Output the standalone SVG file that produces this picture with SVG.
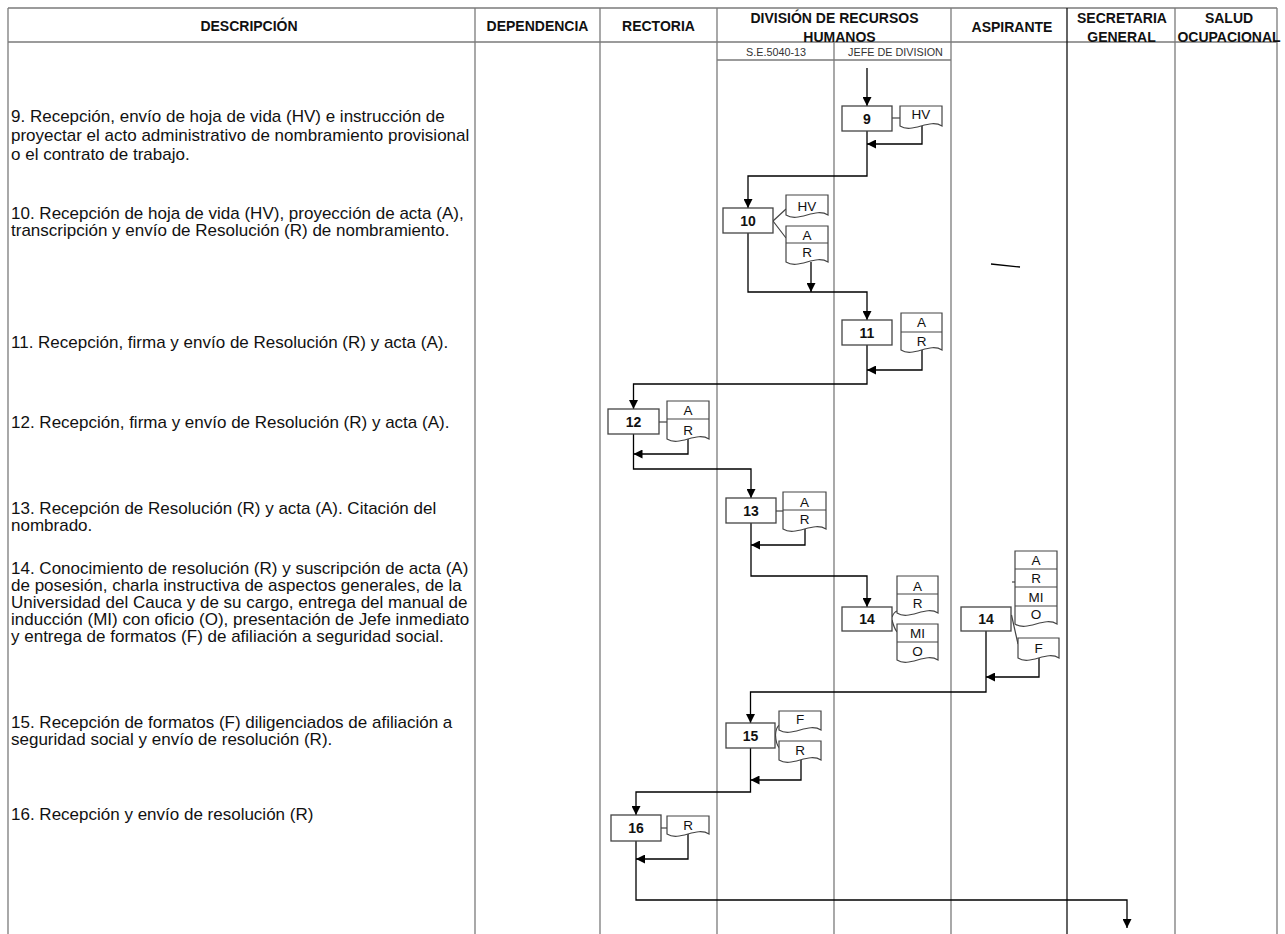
<svg xmlns="http://www.w3.org/2000/svg" width="1285" height="934" viewBox="0 0 1285 934">
<style>
.col{stroke:#7a7a7a;stroke-width:1.3;fill:none}
.colk{stroke:#111;stroke-width:1.3;fill:none}
.flow{stroke:#000;stroke-width:1.3;fill:none}
.box{fill:#fff;stroke:#444;stroke-width:1.3}
.doc{fill:#fff;stroke:#444;stroke-width:1.2}
.dv{stroke:#444;stroke-width:1.2}
.h{font-family:"Liberation Sans",Arial,sans-serif;font-weight:bold;font-size:14px;text-anchor:middle;fill:#111}
.sub{font-family:"Liberation Sans",Arial,sans-serif;font-size:10.8px;text-anchor:middle;fill:#333}
.d{font-family:"Liberation Sans",Arial,sans-serif;font-size:17px;fill:#111}
.bl{font-family:"Liberation Sans",Arial,sans-serif;font-weight:bold;font-size:14px;text-anchor:middle;fill:#111}
.dl{font-family:"Liberation Sans",Arial,sans-serif;font-size:13.5px;text-anchor:middle;fill:#111}
</style>
<defs>
<marker id="ah" markerWidth="9" markerHeight="9" refX="9" refY="4.5" orient="auto" markerUnits="userSpaceOnUse">
<path d="M0,0 L9,4.5 L0,9 z" fill="#000"/>
</marker>
</defs>
<rect width="1285" height="934" fill="#fff"/>
<g id="table">
<line class="col" x1="8" y1="8" x2="1277" y2="8"/>
<line class="col" x1="8" y1="42" x2="1277" y2="42"/>
<line class="col" x1="717" y1="60" x2="951" y2="60"/>
<line class="col" x1="8" y1="8" x2="8" y2="934"/>
<line class="col" x1="475" y1="8" x2="475" y2="934"/>
<line class="col" x1="600" y1="8" x2="600" y2="934"/>
<line class="col" x1="717" y1="8" x2="717" y2="934"/>
<line class="col" x1="834" y1="42" x2="834" y2="934"/>
<line class="col" x1="951" y1="8" x2="951" y2="934"/>
<line class="colk" x1="1067" y1="8" x2="1067" y2="934"/>
<line class="col" x1="1175" y1="8" x2="1175" y2="934"/>
<line class="col" x1="1277" y1="8" x2="1277" y2="934"/>
<text class="h" x="249" y="31">DESCRIPCIÓN</text>
<text class="h" x="537.5" y="31">DEPENDENCIA</text>
<text class="h" x="658.5" y="31">RECTORIA</text>
<text class="h" x="834.5" y="23">DIVISIÓN DE RECURSOS</text>
<text class="h" x="839.5" y="41.5">HUMANOS</text>
<text class="h" x="1012" y="31.5">ASPIRANTE</text>
<text class="h" x="1122" y="23">SECRETARIA</text>
<text class="h" x="1121.5" y="41.5">GENERAL</text>
<text class="h" x="1229" y="23">SALUD</text>
<text class="h" x="1229" y="41.5">OCUPACIONAL</text>
<text class="sub" x="776" y="56">S.E.5040-13</text>
<text class="sub" x="895.5" y="56">JEFE DE DIVISION</text>
</g>
<g id="descriptions">
<text class="d" x="11" y="122">9. Recepción, envío de hoja de vida (HV) e instrucción de</text>
<text class="d" x="11" y="141">proyectar el acto administrativo de nombramiento provisional</text>
<text class="d" x="11" y="160">o el contrato de trabajo.</text>
<text class="d" x="11" y="219">10. Recepción de hoja de vida (HV), proyección de acta (A),</text>
<text class="d" x="11" y="236">transcripción y envío de Resolución (R) de nombramiento.</text>
<text class="d" x="11" y="348">11. Recepción, firma y envío de Resolución (R) y acta (A).</text>
<text class="d" x="11" y="428">12. Recepción, firma y envío de Resolución (R) y acta (A).</text>
<text class="d" x="11" y="514">13. Recepción de Resolución (R) y acta (A). Citación del</text>
<text class="d" x="11" y="531">nombrado.</text>
<text class="d" x="11" y="574">14. Conocimiento de resolución (R) y suscripción de acta (A)</text>
<text class="d" x="11" y="591">de posesión, charla instructiva de aspectos generales, de la</text>
<text class="d" x="11" y="608">Universidad del Cauca y de su cargo, entrega del manual de</text>
<text class="d" x="11" y="625">inducción (MI) con oficio (O), presentación de Jefe inmediato</text>
<text class="d" x="11" y="642">y entrega de formatos (F) de afiliación a seguridad social.</text>
<text class="d" x="11" y="728">15. Recepción de formatos (F) diligenciados de afiliación a</text>
<text class="d" x="11" y="745">seguridad social y envío de resolución (R).</text>
<text class="d" x="11" y="820">16. Recepción y envío de resolución (R)</text>
</g>
<g id="connectors">
<path class="flow" d="M867,68 V106" marker-end="url(#ah)"/>
<path class="flow" d="M867,131 V176 H748 V208" marker-end="url(#ah)"/>
<path class="flow" d="M748,233 V292 H867 V320" marker-end="url(#ah)"/>
<path class="flow" d="M867,345 V384 H633.5 V409" marker-end="url(#ah)"/>
<path class="flow" d="M633.5,434 V469 H751 V498" marker-end="url(#ah)"/>
<path class="flow" d="M751,523 V576 H867 V607" marker-end="url(#ah)"/>
<path class="flow" d="M986,631 V692 H750.5 V723" marker-end="url(#ah)"/>
<path class="flow" d="M750.5,748 V792 H636 V815" marker-end="url(#ah)"/>
<path class="flow" d="M636,841 V900 H1127 V928" marker-end="url(#ah)"/>
<path class="flow" d="M922,126 V144 H867" marker-end="url(#ah)"/>
<path class="flow" d="M811,262 V292" marker-end="url(#ah)"/>
<path class="flow" d="M922,350 V370 H867" marker-end="url(#ah)"/>
<path class="flow" d="M688,439 V454 H633.5" marker-end="url(#ah)"/>
<path class="flow" d="M805,529 V545 H751" marker-end="url(#ah)"/>
<path class="flow" d="M1039,658 V677 H986" marker-end="url(#ah)"/>
<path class="flow" d="M801,760 V780 H750.5" marker-end="url(#ah)"/>
<path class="flow" d="M688,834 V859 H636" marker-end="url(#ah)"/>
<line class="dv" x1="892" y1="118" x2="900" y2="118"/>
<path class="dv" fill="none" d="M773,221 L786,209 M773,221 L786,238"/>
<line class="dv" x1="659" y1="422" x2="667" y2="422"/>
<line class="dv" x1="776" y1="511" x2="783" y2="511"/>
<path class="dv" fill="none" d="M892,617 Q894,612 897,611 M892,620 Q894,628 897,632"/>
<line class="dv" x1="1011.5" y1="615" x2="1018" y2="644"/>
<line class="dv" x1="1012" y1="582" x2="1015" y2="582"/>
<path class="dv" fill="none" d="M775.5,735 Q776,727 779.5,725 M775.5,735 Q776,745 779.5,748"/>
<line class="dv" x1="661" y1="828" x2="667" y2="828"/>
<line class="flow" x1="991" y1="264" x2="1020" y2="267"/>
</g>
<g id="n9"><rect class="box" x="842" y="106" width="50" height="25"/><text class="bl" x="867" y="123.5">9</text></g>
<g id="d9"><path class="doc" d="M900,106 H942 V126 C929.4,118 912.6,134 900,126 Z"/><text class="dl" x="921" y="119">HV</text></g>
<g id="n10"><rect class="box" x="723" y="208" width="50" height="25"/><text class="bl" x="748" y="225.5">10</text></g>
<g id="d10a"><path class="doc" d="M786,195 H828 V215 C815.4,207 798.6,223 786,215 Z"/><text class="dl" x="807" y="211">HV</text></g>
<g id="d10b"><path class="doc" d="M786,226 H828 V262 C815.4,254 798.6,270 786,262 Z"/><line class="dv" x1="786" y1="243" x2="828" y2="243"/><text class="dl" x="807" y="240">A</text><text class="dl" x="807" y="257">R</text></g>
<g id="n11"><rect class="box" x="842" y="320" width="50" height="25"/><text class="bl" x="867" y="337.5">11</text></g>
<g id="d11"><path class="doc" d="M901,313 H942 V350 C929.7,342 913.3,358 901,350 Z"/><line class="dv" x1="901" y1="332" x2="942" y2="332"/><text class="dl" x="921.5" y="327">A</text><text class="dl" x="921.5" y="346">R</text></g>
<g id="n12"><rect class="box" x="608" y="409" width="51" height="25"/><text class="bl" x="633.5" y="426.5">12</text></g>
<g id="d12"><path class="doc" d="M667,401 H709 V439 C696.4,431 679.6,447 667,439 Z"/><line class="dv" x1="667" y1="419" x2="709" y2="419"/><text class="dl" x="688" y="415">A</text><text class="dl" x="688" y="435">R</text></g>
<g id="n13"><rect class="box" x="726" y="498" width="50" height="25"/><text class="bl" x="751" y="515.5">13</text></g>
<g id="d13"><path class="doc" d="M783,492 H826 V529 C813.1,521 795.9,537 783,529 Z"/><line class="dv" x1="783" y1="510" x2="826" y2="510"/><text class="dl" x="804.5" y="506.5">A</text><text class="dl" x="804.5" y="524">R</text></g>
<g id="n14a"><rect class="box" x="842" y="607" width="50" height="24"/><text class="bl" x="867" y="624">14</text></g>
<g id="d14a1"><path class="doc" d="M897,576 H938 V613 C925.7,605 909.3,621 897,613 Z"/><line class="dv" x1="897" y1="594" x2="938" y2="594"/><text class="dl" x="917.5" y="590.5">A</text><text class="dl" x="917.5" y="608">R</text></g>
<g id="d14a2"><path class="doc" d="M897,624 H938 V660 C925.7,652 909.3,668 897,660 Z"/><line class="dv" x1="897" y1="642" x2="938" y2="642"/><text class="dl" x="917.5" y="638">MI</text><text class="dl" x="917.5" y="656">O</text></g>
<g id="n14b"><rect class="box" x="961" y="607" width="50" height="24"/><text class="bl" x="986" y="624">14</text></g>
<g id="d14b1"><path class="doc" d="M1015,551 H1057 V624 C1044.4,616 1027.6,632 1015,624 Z"/><line class="dv" x1="1015" y1="569" x2="1057" y2="569"/><line class="dv" x1="1015" y1="587" x2="1057" y2="587"/><line class="dv" x1="1015" y1="606" x2="1057" y2="606"/><text class="dl" x="1036" y="565">A</text><text class="dl" x="1036" y="583">R</text><text class="dl" x="1036" y="601.5">MI</text><text class="dl" x="1036" y="619">O</text></g>
<g id="d14b2"><path class="doc" d="M1018,638 H1059 V658 C1046.7,650 1030.3,666 1018,658 Z"/><text class="dl" x="1038.5" y="652.5">F</text></g>
<g id="n15"><rect class="box" x="726" y="723" width="49" height="25"/><text class="bl" x="750.5" y="740.5">15</text></g>
<g id="d15a"><path class="doc" d="M779,711 H821 V730 C808.4,722 791.6,738 779,730 Z"/><text class="dl" x="800" y="724">F</text></g>
<g id="d15b"><path class="doc" d="M779,741 H821 V760 C808.4,752 791.6,768 779,760 Z"/><text class="dl" x="800" y="755">R</text></g>
<g id="n16"><rect class="box" x="611" y="815" width="50" height="26"/><text class="bl" x="636" y="833">16</text></g>
<g id="d16"><path class="doc" d="M667,816 H709 V834 C696.4,826 679.6,842 667,834 Z"/><text class="dl" x="688" y="830">R</text></g>
</svg>
